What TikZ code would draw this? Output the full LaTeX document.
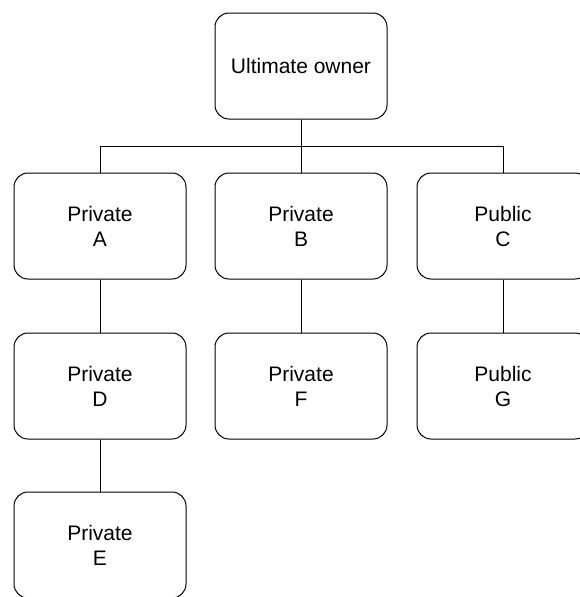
\documentclass[tikz,border=0pt]{standalone}
\usepackage{fontspec}
\setmainfont{Liberation Sans}
\begin{document}
\begin{tikzpicture}[x=1pt,y=-1pt,
  box/.style={draw, line width=1pt, rounded corners=14pt, minimum width=172pt, minimum height=106pt,
    align=center, inner sep=0pt, font=\fontsize{21}{25}\selectfont},
  link/.style={draw, line width=1pt}]
\useasboundingbox[fill=white] (0,0) rectangle (580,597);
\node[box] (top) at (301,66) {Ultimate owner};
\node[box] (A) at (100,226) {Private\\A};
\node[box] (B) at (301,226) {Private\\B};
\node[box] (C) at (503,226) {Public\\C};
\node[box] (D) at (100,386) {Private\\D};
\node[box] (F) at (301,386) {Private\\F};
\node[box] (G) at (503,386) {Public\\G};
\node[box] (E) at (100,545) {Private\\E};
\coordinate (j) at (301,146);
\draw[link] (top.south) -- (j);
\draw[link] (A.north) -- (A.north |- j) -- (C.north |- j) -- (C.north);
\draw[link] (j) -- (B.north);
\draw[link] (A) -- (D);
\draw[link] (D) -- (E);
\draw[link] (B) -- (F);
\draw[link] (C) -- (G);
\end{tikzpicture}
\end{document}
